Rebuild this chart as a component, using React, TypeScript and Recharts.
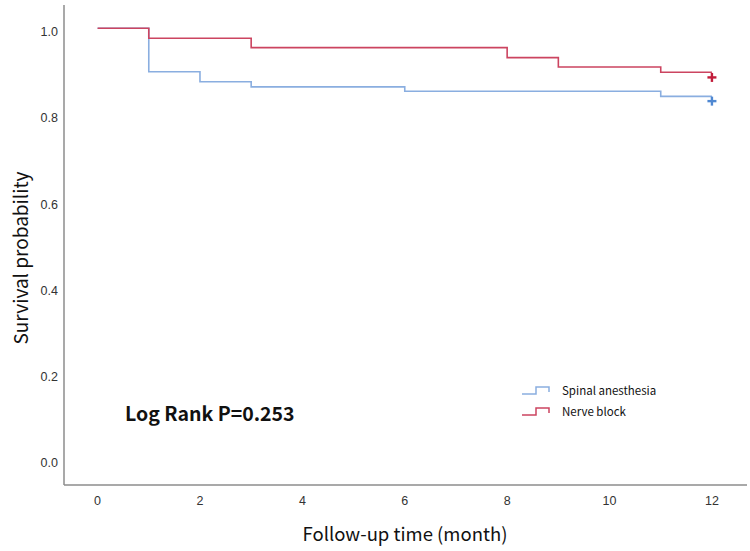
import React from "react";
import {
  ComposedChart,
  Line,
  Scatter,
  XAxis,
  YAxis,
  Customized,
} from "recharts";

// ---- data ----
const spinalTimes = [0, 1, 2, 3, 6, 11, 12];
const spinalSurvival = [1.0, 0.899, 0.876, 0.864, 0.854, 0.842, 0.842];
const nerveTimes = [0, 1, 3, 8, 9, 11, 12];
const nerveSurvival = [1.0, 0.977, 0.955, 0.932, 0.91, 0.898, 0.898];
const spinalCensor = [{ t: 12, s: 0.831 }];
const nerveCensor = [{ t: 12, s: 0.886 }];
const xTicks = [0, 2, 4, 6, 8, 10, 12];
const yTicks = [0, 0.2, 0.4, 0.6, 0.8, 1.0];
const seriesNames = ["Spinal anesthesia", "Nerve block"];
const pValueText = "Log Rank P=0.253";
const xTitle = "Follow-up time (month)";
const yTitle = "Survival probability";

const spinalData = spinalTimes.map((t, i) => ({ t, s: spinalSurvival[i] }));
const nerveData = nerveTimes.map((t, i) => ({ t, s: nerveSurvival[i] }));

const BLUE = "#8aaee0";
const RED = "#cc4460";
const BLUE_MARK = "#4f88d2";
const RED_MARK = "#c21c3a";
const TITLE_FONT = "'Noto Sans CJK SC', 'Noto Sans', sans-serif";
const TICK_FONT = "'Liberation Sans', Arial, sans-serif";

const Plus = (color: string) => (props: any) => {
  const { cx, cy } = props;
  if (cx == null || cy == null) return null;
  return (
    <g>
      <line x1={cx - 4.5} x2={cx + 4.5} y1={cy} y2={cy} stroke={color} strokeWidth={2.4} />
      <line x1={cx} x2={cx} y1={cy - 4.5} y2={cy + 4.5} stroke={color} strokeWidth={2.4} />
    </g>
  );
};

const XTick = (props: any) => {
  const { x, payload } = props;
  return (
    <text x={x} y={505} textAnchor="middle" fontSize={12.5} fontFamily={TICK_FONT} fill="#333">
      {payload.value}
    </text>
  );
};

const YTick = (props: any) => {
  const { y, payload } = props;
  return (
    <text x={58} y={y + 8} textAnchor="end" fontSize={12.5} fontFamily={TICK_FONT} fill="#333">
      {Number(payload.value).toFixed(1)}
    </text>
  );
};

const LegendBox = () => {
  const items = [
    { name: seriesNames[0], color: BLUE },
    { name: seriesNames[1], color: RED },
  ];
  return (
    <div style={{ position: "absolute", left: 522, top: 379, width: 200 }}>
      {items.map((it) => (
        <div key={it.name} style={{ display: "flex", alignItems: "center", height: 21 }}>
          <svg width={30} height={12} style={{ marginRight: 10 }}>
            <path d="M0,10 H14 V3 H27 V8" fill="none" stroke={it.color} strokeWidth={1.5} />
          </svg>
          <span style={{ fontFamily: TITLE_FONT, fontSize: 11.5, color: "#111" }}>{it.name}</span>
        </div>
      ))}
    </div>
  );
};

const Texts = () => (
  <g>
    <text x={125} y={421} fontSize={19.5} fontWeight="bold" fontFamily={TITLE_FONT} fill="#111">
      {pValueText}
    </text>
    <text x={405} y={541} textAnchor="middle" fontSize={18.5} fontFamily={TITLE_FONT} fill="#111">
      {xTitle}
    </text>
    <text
      x={0}
      y={0}
      transform="translate(28,258) rotate(-90)"
      textAnchor="middle"
      fontSize={19}
      fontFamily={TITLE_FONT}
      fill="#111"
    >
      {yTitle}
    </text>
  </g>
);

export default function App() {
  return (
    <div style={{ position: "absolute", left: 0, top: 0, width: 750, height: 551, background: "#fff" }}>
      <ComposedChart
        width={750}
        height={551}
        margin={{ top: 5, right: 3, bottom: 36, left: 0 }}
      >
        <XAxis
          type="number"
          dataKey="t"
          domain={[-0.656, 12.685]}
          allowDataOverflow
          ticks={xTicks}
          tickLine={false}
          axisLine={{ stroke: "#8c8c8c", strokeWidth: 1.5 }}
          tick={<XTick />}
          height={30}
        />
        <YAxis
          type="number"
          dataKey="s"
          domain={[-0.0596, 1.054]}
          allowDataOverflow
          ticks={yTicks}
          tickLine={false}
          axisLine={{ stroke: "#8c8c8c", strokeWidth: 1.5 }}
          tick={<YTick />}
          width={64}
        />
        <Line
          data={spinalData}
          dataKey="s"
          type="stepAfter"
          stroke={BLUE}
          strokeWidth={1.6}
          dot={false}
          activeDot={false}
          isAnimationActive={false}
          name={seriesNames[0]}
        />
        <Line
          data={nerveData}
          dataKey="s"
          type="stepAfter"
          stroke={RED}
          strokeWidth={1.6}
          dot={false}
          activeDot={false}
          isAnimationActive={false}
          name={seriesNames[1]}
        />
        <Scatter data={spinalCensor} dataKey="s" shape={Plus(BLUE_MARK)} isAnimationActive={false} />
        <Scatter data={nerveCensor} dataKey="s" shape={Plus(RED_MARK)} isAnimationActive={false} />
        <Customized component={Texts} />
      </ComposedChart>
      <LegendBox />
    </div>
  );
}
